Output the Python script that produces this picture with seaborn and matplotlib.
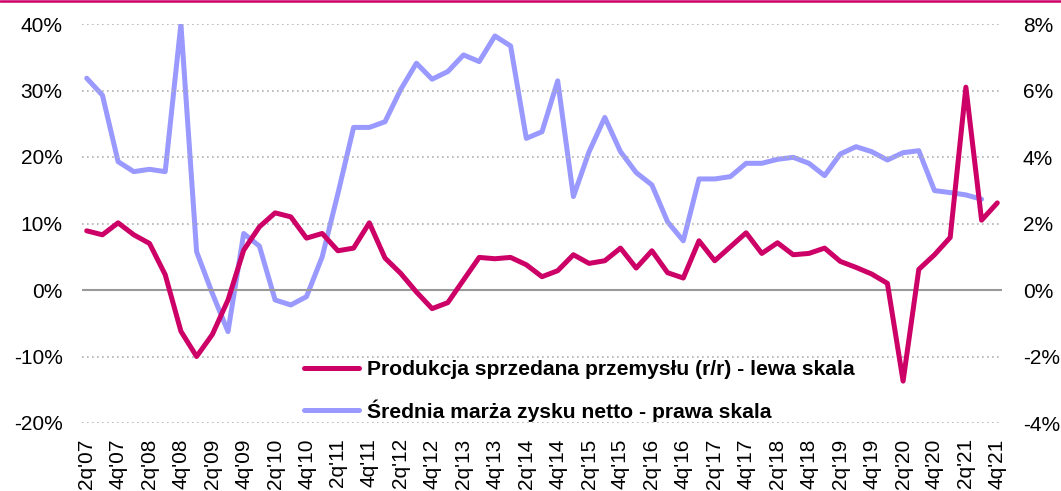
import matplotlib
matplotlib.use("Agg")
import matplotlib.pyplot as plt
import matplotlib.lines as mlines
import pandas as pd
import seaborn as sns

# quarters 2q'07 .. 4q'21
quarters = []
for year in range(2007, 2022):
    for q in range(1, 5):
        if year == 2007 and q == 1:
            continue
        quarters.append(f"{q}q'{str(year)[2:]}")

# industrial production y/y (%), left axis
production = [8.9, 8.3, 10.1, 8.3, 7.0, 2.3, -6.2, -10.0, -6.7, -1.5, 6.0, 9.5, 11.6, 11.0, 7.8,
              8.5, 5.9, 6.3, 10.1, 4.8, 2.5, -0.3, -2.8, -1.9, 1.5, 4.9, 4.7, 4.9, 3.8, 2.0, 2.9,
              5.3, 4.0, 4.4, 6.3, 3.3, 5.9, 2.6, 1.8, 7.4, 4.4, 6.5, 8.6, 5.5, 7.1, 5.3,
              5.5, 6.3, 4.3, 3.4, 2.4, 1.0, -13.7, 3.1, 5.3, 7.9, 30.5, 10.5, 13.1]

# average net profit margin (%), right axis
margin = [6.37, 5.86, 3.86, 3.56, 3.63, 3.56, 8.0, 1.15, -0.1, -1.25, 1.7, 1.32, -0.3, -0.45, -0.2,
          1.0, 2.9, 4.89, 4.89, 5.06, 6.03, 6.82, 6.34, 6.57, 7.07, 6.87, 7.64, 7.34, 4.56, 4.76, 6.29,
          2.81, 4.16, 5.19, 4.16, 3.53, 3.16, 2.05, 1.48, 3.34, 3.34, 3.41, 3.81, 3.81, 3.93, 3.99,
          3.81, 3.44, 4.09, 4.31, 4.16, 3.91, 4.13, 4.19, 2.99, 2.93, 2.86, 2.73]

left_ticks = [-20, -10, 0, 10, 20, 30, 40]
right_ticks = [-4, -2, 0, 2, 4, 6, 8]

label_prod = "Produkcja sprzedana przemysłu (r/r) - lewa skala"
label_margin = "Średnia marża zysku netto - prawa skala"

magenta = "#CC0066"
lavender = "#9999FF"

df1 = pd.DataFrame({"i": range(len(production)), "v": production})
df2 = pd.DataFrame({"i": range(len(margin)), "v": margin})

sns.set_style("white")
plt.rcParams['font.family'] = ['Liberation Sans', 'DejaVu Sans']
plt.rcParams['text.color'] = 'black'
plt.rcParams['xtick.color'] = 'black'
plt.rcParams['ytick.color'] = 'black'

fig = plt.figure(figsize=(10.61, 4.91), dpi=100)
ax = fig.add_axes([82 / 1061, 68 / 491, 920 / 1061, 399 / 491])
ax2 = ax.twinx()

# grid and zero line
for t in left_ticks:
    if t == 0:
        ax.axhline(0, color="#999999", lw=1.5, zorder=1)
    else:
        ax.axhline(t, color="#b0b0b0", lw=1.2, ls=(0, (1, 2)), zorder=1)

sns.lineplot(data=df2, x="i", y="v", ax=ax2, color=lavender, lw=3.6, legend=False)
sns.lineplot(data=df1, x="i", y="v", ax=ax, color=magenta, lw=3.6, legend=False)

ax.set_zorder(ax2.get_zorder() + 1)
ax.patch.set_visible(False)

ax.set_xlim(-0.3, len(quarters) - 1 + 0.3)
ax.set_ylim(-20, 40)
ax2.set_ylim(-4, 8)
ax.set_yticks(left_ticks)
ax.set_yticklabels([f"{t}%" for t in left_ticks])
ax2.set_yticks(right_ticks)
ax2.set_yticklabels([f"{t}%" for t in right_ticks])
ax.set_xticks(range(0, len(quarters), 2))
ax.set_xticklabels(quarters[::2], rotation=90, fontsize=15)
ax.set_xlabel("")
ax.set_ylabel("")
ax2.set_ylabel("")
ax.tick_params(axis="y", labelsize=15, length=0, pad=14)
ax2.tick_params(axis="y", labelsize=15, length=0, pad=15)
ax.tick_params(axis="x", length=0, pad=11)
for a in (ax, ax2):
    for s in a.spines.values():
        s.set_visible(False)

h1 = mlines.Line2D([], [], color=magenta, lw=3.6, solid_capstyle="round")
h2 = mlines.Line2D([], [], color=lavender, lw=3.6, solid_capstyle="round")
fig.legend([h1, h2], [label_prod, label_margin], loc="upper left",
           bbox_to_anchor=(304 / 1061, 1 - 360 / 491), frameon=False,
           prop={"weight": "bold", "size": 15.2}, handlelength=2.6, handletextpad=0.4,
           labelspacing=0.95, borderpad=0, borderaxespad=0)

fig.add_artist(mlines.Line2D([0, 1], [0.998, 0.998], color=magenta, lw=1.8,
                             transform=fig.transFigure))

fig.savefig("out.png", dpi=100)
